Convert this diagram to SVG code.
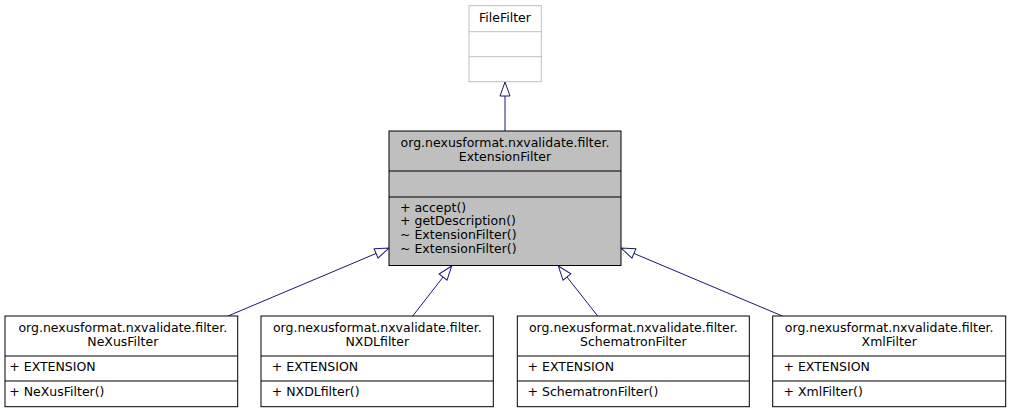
<svg xmlns="http://www.w3.org/2000/svg" width="1011" height="413" viewBox="0 0 1011 413">
<style>
text{font-family:"DejaVu Sans","Bitstream Vera Sans",sans-serif;font-size:12.5px;fill:#000}
.c{text-anchor:middle}
.box{fill:#fff;stroke:#000;stroke-width:1}
.base{fill:#bfbfbf;stroke:#000;stroke-width:1}
.ext{fill:#fff;stroke:#bfbfbf;stroke-width:1}
.edge{fill:none;stroke:#191970;stroke-width:1;marker-end:url(#tri)}
</style>
<defs>
<marker id="tri" markerUnits="userSpaceOnUse" markerWidth="16" markerHeight="12" refX="14" refY="5" orient="auto" overflow="visible">
<path d="M0,0 L14,5 L0,10 Z" fill="#fff" stroke="#191970" stroke-width="1"/>
</marker>
</defs>
<rect width="1011" height="413" fill="#fff"/>
<g id="connectors">
<path class="edge" d="M505,131 L505,82"/>
<path class="edge" d="M228,316 L389,248"/>
<path class="edge" d="M412.7,316 L451.7,266"/>
<path class="edge" d="M597.7,316 L558.3,266"/>
<path class="edge" d="M782.3,316 L621,248"/>
</g>
<g id="FileFilter">
<rect class="ext" x="469" y="5.7" width="72.3" height="76"/>
<path d="M469,31.7 H541.3 M469,56.7 H541.3" stroke="#bfbfbf" fill="none"/>
<text class="c" x="505" y="21.7">FileFilter</text>
</g>
<g id="ExtensionFilter">
<rect class="base" x="389" y="131" width="232" height="134.5"/>
<path d="M389,171 H621 M389,197 H621" stroke="#000" fill="none"/>
<text class="c" x="505" y="147">org.nexusformat.nxvalidate.filter.</text>
<text class="c" x="505" y="161">ExtensionFilter</text>
<text x="400" y="211.5">+ accept()</text>
<text x="400" y="225.2">+ getDescription()</text>
<text x="400" y="238.9">~ ExtensionFilter()</text>
<text x="400" y="252.6">~ ExtensionFilter()</text>
</g>
<g id="NeXusFilter">
<rect class="box" x="5" y="316" width="232.7" height="90.7"/>
<path d="M5,356 H237.7 M5,381 H237.7" stroke="#000" fill="none"/>
<text class="c" x="122.8" y="332">org.nexusformat.nxvalidate.filter.</text>
<text class="c" x="122.8" y="346">NeXusFilter</text>
<text x="9.3" y="370.7">+ EXTENSION</text>
<text x="9.3" y="395.7">+ NeXusFilter()</text>
</g>
<g id="NXDLfilter">
<rect class="box" x="261" y="316" width="232.3" height="90.7"/>
<path d="M261,356 H493.3 M261,381 H493.3" stroke="#000" fill="none"/>
<text class="c" x="377.3" y="332">org.nexusformat.nxvalidate.filter.</text>
<text class="c" x="377.3" y="346">NXDLfilter</text>
<text x="271.8" y="370.7">+ EXTENSION</text>
<text x="271.8" y="395.7">+ NXDLfilter()</text>
</g>
<g id="SchematronFilter">
<rect class="box" x="517.3" y="316" width="232" height="90.7"/>
<path d="M517.3,356 H749.3 M517.3,381 H749.3" stroke="#000" fill="none"/>
<text class="c" x="633.3" y="332">org.nexusformat.nxvalidate.filter.</text>
<text class="c" x="633.3" y="346">SchematronFilter</text>
<text x="527.6" y="370.7">+ EXTENSION</text>
<text x="527.6" y="395.7">+ SchematronFilter()</text>
</g>
<g id="XmlFilter">
<rect class="box" x="772.7" y="316" width="233" height="90.7"/>
<path d="M772.7,356 H1005.7 M772.7,381 H1005.7" stroke="#000" fill="none"/>
<text class="c" x="889.2" y="332">org.nexusformat.nxvalidate.filter.</text>
<text class="c" x="889.2" y="346">XmlFilter</text>
<text x="783.5" y="370.7">+ EXTENSION</text>
<text x="783.5" y="395.7">+ XmlFilter()</text>
</g>
</svg>
